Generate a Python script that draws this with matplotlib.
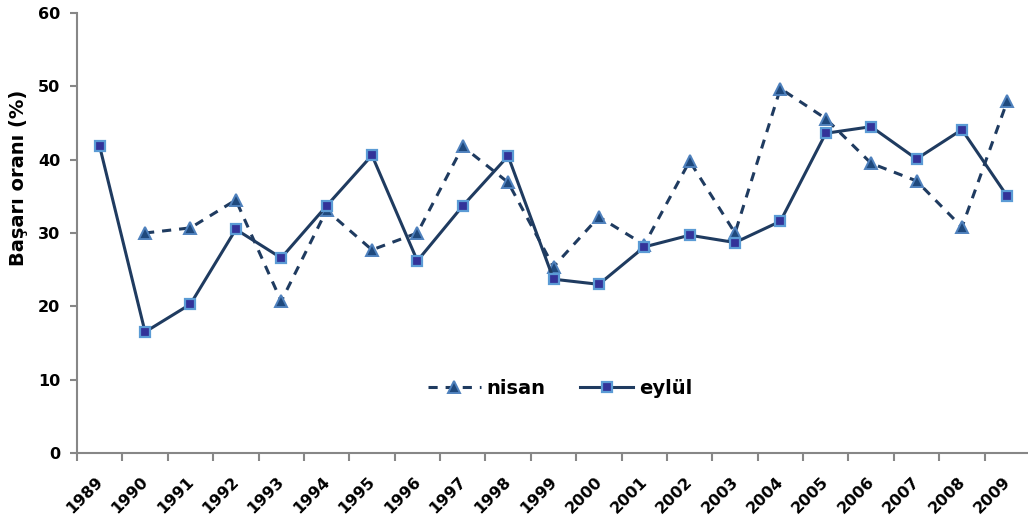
import numpy as np
import matplotlib
matplotlib.use("Agg")
import matplotlib.pyplot as plt
import matplotlib.transforms as mtransforms

years = [str(y) for y in range(1989, 2010)]
nisan = [np.nan, 30.0, 30.7, 34.5, 20.7, 33.1, 27.7, 30.0, 41.8, 36.9, 25.4,
         32.2, 28.4, 39.8, 30.0, 49.7, 45.6, 39.5, 37.1, 30.8, 48.0]
eylul = [41.8, 16.5, 20.3, 30.5, 26.6, 33.7, 40.6, 26.2, 33.7, 40.5, 23.7,
         23.0, 28.1, 29.7, 28.7, 31.6, 43.6, 44.5, 40.1, 44.1, 35.0]

line_col = "#1F3B60"
axis_col = "#878787"

plt.rcParams["font.family"] = ["DejaVu Sans"]
plt.rcParams["font.weight"] = "bold"

fig = plt.figure(figsize=(10.28, 5.24), dpi=100)
ax = fig.add_axes([77 / 1028, 71 / 524, 953 / 1028, 440 / 524])

x = np.arange(len(years))
ax.plot(x, nisan, color=line_col, lw=2.2, dashes=[3, 2.6], marker="^", ms=8.5,
        mfc="#1F497D", mec="#4F81BD", mew=1.4, label="nisan")
ax.plot(x, eylul, color=line_col, lw=2.2, marker="s", ms=7.5,
        mfc="#333399", mec="#5B9BD5", mew=1.6, label="eylül")

ax.set_xlim(-0.5, len(years) - 0.5)
ax.set_ylim(0, 60)
ax.set_yticks(range(0, 61, 10))
ax.set_xticks(x)
ax.set_xticklabels(years, rotation=45, ha="right", fontsize=11.5, fontweight="bold")
ax.set_xticks(np.arange(-0.5, len(years) - 0.5, 1), minor=True)
ax.tick_params(axis="x", which="major", length=0, pad=15)
ax.tick_params(axis="x", which="minor", length=6, width=1.5, color=axis_col)
ax.tick_params(axis="y", length=5, width=1.5, color=axis_col, pad=7, labelsize=11.5)
offset = mtransforms.ScaledTranslation(6 / 100, 0, fig.dpi_scale_trans)
for lab in ax.get_xticklabels():
    lab.set_transform(lab.get_transform() + offset)

for side in ["top", "right"]:
    ax.spines[side].set_visible(False)
for side in ["left", "bottom"]:
    ax.spines[side].set_color(axis_col)
    ax.spines[side].set_linewidth(1.5)

fig.text(0.018, 1 - 178 / 524, "Başarı oranı (%)", rotation=90, ha="center",
         va="center", fontsize=14, fontweight="bold")

ax.legend(loc="center", bbox_to_anchor=((560 - 77) / 953, (453 - 388) / 440),
          ncol=2, frameon=False, fontsize=14, handlelength=2.7,
          handletextpad=0.3, columnspacing=1.8, numpoints=1)

fig.savefig("out.png", dpi=100)
